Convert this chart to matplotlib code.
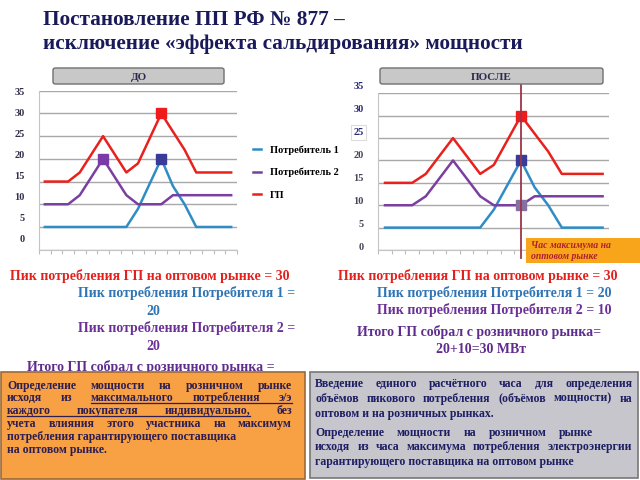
import numpy as np
import matplotlib
matplotlib.use("Agg")
import matplotlib.pyplot as plt
from matplotlib.patches import FancyBboxPatch, Rectangle
from matplotlib.lines import Line2D

# hourly consumption (MW)
consumer1 = [5, 5, 5, 5, 5, 5, 5, 5, 9, 14.5, 20, 14, 10, 5, 5, 5, 5]
consumer2 = [10, 10, 10, 12, 16, 20, 16, 12, 10, 10, 10, 12, 12, 12, 12, 12, 12]
gp_total = [15, 15, 15, 17, 21, 25, 21, 17, 19, 24.5, 30, 26, 22, 17, 17, 17, 17]
series_names = ["Потребитель 1", "Потребитель 2", "ГП"]
y_ticks = [0, 5, 10, 15, 20, 25, 30, 35]

W, H = 640, 480
SERIF = "Liberation Serif"
C_BLUE = "#2f8cc4"
C_PURPLE = "#7a3fa0"
C_RED = "#e8211d"
C_NAVY = "#1d1d5c"

fig = plt.figure(figsize=(6.4, 4.8), dpi=100)


def fx(x):
    return x / W


def fy(y):
    return 1 - y / H


def px_axes(x0, y_top, x1, y_bot):
    return fig.add_axes([fx(x0), fy(y_bot), (x1 - x0) / W, (y_bot - y_top) / H])


def txt(x, y, s, size=10, color=C_NAVY, ha="left", style="normal", z=3):
    # y is the visual middle of the line; convert to a baseline position
    base = y + 0.3 * size * 100 / 72
    return fig.text(fx(x), fy(base), s, fontsize=size, color=color, ha=ha, va="baseline",
                    family=SERIF, weight="bold", style=style, zorder=z)


def justified(x0, x1, y, s, size=8.5, color=C_NAVY, underline=None, z=6):
    words = s.split()
    r = fig.canvas.get_renderer()
    objs = [txt(0, y, w, size=size, color=color, z=z) for w in words]
    widths = [o.get_window_extent(r).width for o in objs]
    gap = (x1 - x0 - sum(widths)) / max(len(words) - 1, 1)
    x = x0
    starts = []
    for o, w in zip(objs, widths):
        o.set_x(fx(x))
        starts.append((x, x + w))
        x += w + gap
    if underline:
        a, b = underline
        fig.add_artist(Line2D([fx(starts[a][0]), fx(starts[b][1])], [fy(y + 6), fy(y + 6)],
                              color=color, lw=0.9, zorder=z))


def draw_chart(ax, markers):
    hours = np.arange(len(gp_total))
    l1, = ax.plot(hours, consumer1, color=C_BLUE, lw=1.8)
    l2, = ax.plot(hours, consumer2, color=C_PURPLE, lw=1.8)
    l3, = ax.plot(hours, gp_total, color=C_RED, lw=1.8)
    for xv, yv, c in markers:
        ax.plot(xv, yv, "s", ms=7.5, color=c, mec=c, zorder=5)
    ax.set_xlim(-0.5, len(hours) - 0.5)
    ax.set_ylim(0, 35)
    ax.set_yticks(y_ticks)
    ax.set_yticklabels([])
    ax.set_xticks(np.arange(-0.5, len(hours), 1.0))
    ax.set_xticklabels([])
    ax.tick_params(axis="y", length=0)
    ax.tick_params(axis="x", length=3, color="#bdbdbd", direction="out")
    ax.grid(axis="y", color="#a8a8a8", lw=1)
    ax.set_axisbelow(True)
    for s in ["top", "right"]:
        ax.spines[s].set_visible(False)
    for s in ["left", "bottom"]:
        ax.spines[s].set_color("#c4c4c4")
    ax.patch.set_alpha(0)
    return [l1, l2, l3]


def label_axis(x_right, y0, y35, colors):
    lab = px_axes(x_right - 2, y35, x_right, y0)
    lab.set_ylim(0, 35)
    lab.set_yticks(y_ticks)
    labels = lab.set_yticklabels([str(v) for v in y_ticks], family=SERIF,
                                 weight="bold", fontsize=7.5)
    for t, c in zip(labels, colors):
        t.set_color(c)
    lab.tick_params(axis="y", length=0, pad=1)
    lab.set_xticks([])
    for s in lab.spines.values():
        s.set_visible(False)
    lab.patch.set_alpha(0)
    return labels


def header(x0, x1, y0, y1, s):
    fig.add_artist(FancyBboxPatch((fx(x0), fy(y1)), (x1 - x0) / W, (y1 - y0) / H,
                                  boxstyle="round,pad=0,rounding_size=0.004",
                                  fc="#c8c8c8", ec="#707070", lw=1, zorder=4))
    txt((x0 + x1) / 2, (y0 + y1) / 2 + 1, s, size=8, color="#2a2a4e", ha="center", z=5)


peak = int(np.argmax(gp_total))
c2_peak = int(np.argmax(consumer2))

# title
txt(43, 19, "Постановление ПП РФ № 877 –", size=15.3, color="#1a1a5a")
txt(43, 43, "исключение «эффекта сальдирования» мощности", size=15.3, color="#1a1a5a")

# left chart (before)
axL = px_axes(39, 90.7, 237, 249.7)
handles = draw_chart(axL, [(peak, gp_total[peak], "#ee1c1c"),
                           (c2_peak, consumer2[c2_peak], "#7a3aa8"),
                           (peak, consumer1[peak], "#3a3a98")])
label_axis(28, 239, 91.5, ["#30304a"] * 8)
header(53, 224, 68, 84, "ДО")

fig.legend(handles, series_names, loc="upper left", bbox_to_anchor=(fx(244), fy(136)),
           frameon=False, handlelength=0.7, handletextpad=0.9, labelspacing=1.25,
           prop={"family": SERIF, "weight": "bold", "size": 7.5})

# right chart (after)
axR = px_axes(378.2, 93.3, 609.4, 250)
draw_chart(axR, [(peak, gp_total[peak], "#ee1c1c"),
                 (peak, consumer1[peak], "#3a3a98"),
                 (peak, consumer2[peak], "#85709f")])
axR.axvline(peak, ymin=-0.051, ymax=1.059, color="#9c3548", lw=1.3, clip_on=False, zorder=6)
rlabels = label_axis(367, 247, 85.5, ["#45455a"] * 5 + ["#2a2a7a"] * 3)
rlabels[5].set_bbox(dict(fc="white", ec="#dcdcdc", lw=0.8, pad=2))
header(380, 603, 68, 84, "ПОСЛЕ")

fig.add_artist(Rectangle((fx(526), fy(263)), 114 / W, 25 / H, fc="#f8a51c", ec="none", zorder=7))
txt(531, 245, "Час максимума на", size=7, color="#b0202a", style="italic", z=8)
txt(531, 256, "оптовом рынке", size=7, color="#b0202a", style="italic", z=8)

# left summary
txt(10, 276, "Пик потребления ГП на оптовом рынке = 30", color="#e3201c")
txt(295, 293, "Пик потребления Потребителя 1 =", color="#2f74b4", ha="right")
txt(153, 311, "20", color="#2f74b4", ha="center")
txt(295, 328, "Пик потребления Потребителя 2 =", color="#6b2f98", ha="right")
txt(153, 346, "20", color="#6b2f98", ha="center")
txt(27, 367, "Итого ГП собрал с розничного рынка =", color="#5e2c8c", z=1)

# right summary
txt(338, 276, "Пик потребления ГП на оптовом рынке = 30", color="#e3201c")
txt(377, 293, "Пик потребления Потребителя 1 = 20", color="#2f74b4")
txt(377, 310, "Пик потребления Потребителя 2 = 10", color="#6b2f98")
txt(357, 332, "Итого ГП собрал с розничного рынка=", color="#5e2c8c")
txt(481, 349, "20+10=30 МВт", color="#5e2c8c", ha="center")

# bottom boxes
fig.add_artist(Rectangle((fx(1), fy(479)), 304 / W, 107 / H, fc="#f7a044", ec="#9a6a3a",
                         lw=1.2, zorder=5))
fig.add_artist(Rectangle((fx(310), fy(478)), 328 / W, 106 / H, fc="#c6c6cc", ec="#777777",
                         lw=1.2, zorder=5))

left_col = "#2c1e52"
justified(7, 292, 385, "Определение мощности на розничном рынке", color=left_col)
justified(7, 292, 397, "исходя из максимального потребления э/э", color=left_col,
          underline=(2, 4))
justified(7, 292, 410, "каждого покупателя индивидуально, без", color=left_col,
          underline=(0, 2))
justified(7, 292, 423, "учета влияния этого участника на максимум", color=left_col)
txt(7, 436, "потребления гарантирующего поставщика", size=8.5, color=left_col, z=6)
txt(7, 449, "на оптовом рынке.", size=8.5, color=left_col, z=6)

right_col = "#1e1e64"
justified(315, 632, 383, "Введение единого расчётного часа для определения", color=right_col)
justified(315, 632, 398, "объёмов пикового потребления (объёмов мощности) на", color=right_col)
txt(315, 413, "оптовом и на розничных рынках.", size=8.5, color=right_col, z=6)
justified(315, 593, 432, "Определение мощности на розничном рынке", color=right_col)
justified(315, 632, 446, "исходя из часа максимума потребления электроэнергии", color=right_col)
txt(315, 461, "гарантирующего поставщика на оптовом рынке", size=8.5, color=right_col, z=6)

fig.savefig("out.png", dpi=100)
